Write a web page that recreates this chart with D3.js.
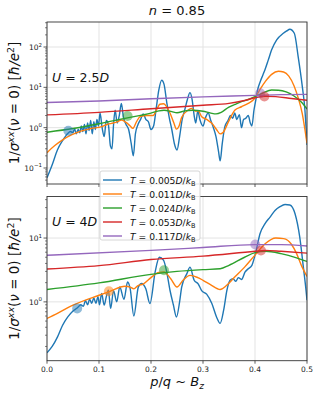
<!DOCTYPE html>
<html><head><meta charset="utf-8">
<script src="https://cdn.jsdelivr.net/npm/d3@7"></script>
<style>body{margin:0;background:#fff}svg{display:block;font-family:"DejaVu Sans",sans-serif}</style>
</head><body><svg id="c" width="319" height="394"></svg>
<script>
// ---------- data ----------
const seriesLabels = ["0.005","0.011","0.024","0.053","0.117"];
const colors = ["#1f77b4","#ff7f0e","#2ca02c","#d62728","#9467bd"];
const xTicks = [0,0.1,0.2,0.3,0.4,0.5];
const topDecades = [-1,0,1,2];
const botDecades = [0,1];

const topBlue = [[0,0.057],[0.01,0.12],[0.02,0.28],[0.03,0.48],[0.04,0.72],[0.045,0.8],[0.05,0.75],[0.053,0.95],[0.056,0.7],[0.06,0.9],[0.063,0.75],[0.066,1.1],[0.069,0.8],[0.072,1.2],[0.075,0.7],[0.078,1.3],[0.081,0.85],[0.084,1.5],[0.087,0.7],[0.09,1.4],[0.093,0.9],[0.096,1.6],[0.099,1.1],[0.102,2.3],[0.106,1.0],[0.11,0.6],[0.114,1.5],[0.118,1.2],[0.122,0.35],[0.125,0.3],[0.128,1.2],[0.131,2.7],[0.135,1.3],[0.139,2.0],[0.143,4.0],[0.147,1.8],[0.152,1.2],[0.157,0.9],[0.162,0.4],[0.166,0.2],[0.17,0.7],[0.175,1.2],[0.18,1.6],[0.185,2.2],[0.19,1.6],[0.195,1.4],[0.2,0.9],[0.205,1.1],[0.21,3.0],[0.215,8.5],[0.2205,15],[0.225,12],[0.23,4.5],[0.235,1.8],[0.24,0.9],[0.245,0.4],[0.25,0.28],[0.255,0.6],[0.26,1.6],[0.265,2.8],[0.27,5.0],[0.275,7.4],[0.279,5.0],[0.283,2.0],[0.286,1.3],[0.29,2.6],[0.294,1.6],[0.3,1.1],[0.305,1.8],[0.31,2.3],[0.315,1.5],[0.32,1.0],[0.325,0.6],[0.33,0.25],[0.333,0.15],[0.337,0.4],[0.342,1.06],[0.348,1.5],[0.353,2.0],[0.357,1.7],[0.361,2.3],[0.365,1.6],[0.37,2.1],[0.374,1.0],[0.378,1.6],[0.382,1.7],[0.387,2.0],[0.391,1.3],[0.394,1.1],[0.398,2.7],[0.401,4.4],[0.405,8.6],[0.41,13.8],[0.415,20],[0.419,27],[0.4256,48],[0.432,85],[0.4417,150],[0.4545,219],[0.461,250],[0.467,276],[0.4756,219],[0.483,58],[0.491,10.4],[0.496,2.75],[0.5,0.37]];
const topOrange = [[0,0.24],[0.015,0.36],[0.03,0.5],[0.047,0.66],[0.065,0.82],[0.085,0.95],[0.105,1.06],[0.115,1.2],[0.124,1.28],[0.132,1.35],[0.144,1.55],[0.152,1.35],[0.16,1.1],[0.165,0.96],[0.172,1.4],[0.179,1.87],[0.192,2.0],[0.204,2.0],[0.212,3.0],[0.217,3.8],[0.224,3.9],[0.2365,2.3],[0.244,1.3],[0.249,0.92],[0.254,1.1],[0.259,1.8],[0.272,2.75],[0.278,3.0],[0.285,2.6],[0.291,2.6],[0.297,1.9],[0.307,1.6],[0.317,1.28],[0.326,0.9],[0.333,0.7],[0.339,0.77],[0.349,1.41],[0.3615,2.75],[0.374,3.3],[0.387,4.0],[0.397,4.9],[0.4,5.5],[0.41,9.0],[0.42,14],[0.432,21],[0.445,25],[0.455,24],[0.465,19],[0.475,11],[0.483,5.5],[0.491,2.2],[0.496,0.9],[0.5,0.41]];
const topGreen = [[0,0.77],[0.05,0.95],[0.1,1.25],[0.15,1.7],[0.2,2.3],[0.215,2.6],[0.225,2.7],[0.24,2.5],[0.25,2.35],[0.265,2.6],[0.28,2.7],[0.3,2.55],[0.315,2.3],[0.325,2.2],[0.335,2.4],[0.349,3.2],[0.362,3.8],[0.374,4.4],[0.387,5.0],[0.4,5.9],[0.415,7.2],[0.432,8.6],[0.445,8.5],[0.46,7.7],[0.475,6.1],[0.49,4.2],[0.5,2.9]];
const topRed = [[0,2.07],[0.1,2.4],[0.2,2.95],[0.3,3.6],[0.35,4.0],[0.38,4.7],[0.4,5.5],[0.42,6.0],[0.44,5.9],[0.47,5.3],[0.5,4.8]];
const topPurple = [[0,4.2],[0.1,4.6],[0.2,5.2],[0.3,5.8],[0.4,6.3],[0.45,6.6],[0.5,6.7]];
const topMarkers = [[0,0.041,0.84],[2,0.155,1.95],[4,0.41,7.1],[3,0.418,5.9]];

const botBlue = [[0,0.16],[0.01,0.2],[0.02,0.28],[0.03,0.43],[0.04,0.58],[0.05,0.72],[0.058,0.8],[0.065,0.9],[0.07,0.85],[0.074,1.05],[0.078,0.9],[0.082,1.1],[0.086,0.95],[0.09,1.15],[0.094,0.95],[0.098,1.2],[0.101,0.9],[0.105,1.35],[0.11,0.89],[0.114,1.2],[0.118,1.52],[0.1224,0.79],[0.128,1.5],[0.134,1.0],[0.14,1.71],[0.148,1.1],[0.155,2.05],[0.16,1.6],[0.167,0.6],[0.1756,1.7],[0.182,1.94],[0.19,1.6],[0.198,0.94],[0.208,2.94],[0.216,5.0],[0.224,4.5],[0.23,3.0],[0.2365,1.52],[0.243,0.9],[0.249,0.58],[0.255,1.0],[0.259,1.7],[0.269,2.77],[0.275,3.5],[0.283,2.18],[0.291,1.9],[0.2974,1.5],[0.307,1.32],[0.317,0.94],[0.326,0.58],[0.333,0.46],[0.3397,0.74],[0.346,1.52],[0.352,2.18],[0.358,2.3],[0.363,2.1],[0.368,2.4],[0.374,2.24],[0.381,2.94],[0.387,3.3],[0.394,3.74],[0.399,5.0],[0.403,6.8],[0.4096,11.7],[0.419,16.7],[0.429,21.3],[0.4385,27],[0.448,31],[0.4577,33.6],[0.467,33],[0.477,24],[0.486,10.4],[0.493,3.5],[0.4975,1.7],[0.5,1.06]];
const botOrange = [[0,0.55],[0.02,0.66],[0.05,0.89],[0.1,1.27],[0.12,1.45],[0.15,1.76],[0.16,1.7],[0.167,1.6],[0.175,1.8],[0.185,1.9],[0.2,2.4],[0.215,2.9],[0.225,2.94],[0.238,2.3],[0.25,1.71],[0.262,2.2],[0.275,2.6],[0.29,2.4],[0.3,2.18],[0.315,1.85],[0.333,1.56],[0.345,1.8],[0.36,2.4],[0.38,3.5],[0.4,5.4],[0.42,8.2],[0.44,10],[0.455,9.8],[0.47,8.0],[0.48,5.7],[0.49,3.6],[0.5,2.5]];
const botGreen = [[0,1.56],[0.1,1.98],[0.2,2.7],[0.25,3.0],[0.3,3.2],[0.333,3.3],[0.35,3.74],[0.38,5.0],[0.4,5.9],[0.42,6.2],[0.45,5.7],[0.48,4.9],[0.5,4.3]];
const botRed = [[0,3.28],[0.1,3.7],[0.2,4.6],[0.3,5.2],[0.4,6.2],[0.42,6.4],[0.45,6.2],[0.5,5.8]];
const botPurple = [[0,5.37],[0.2,6.4],[0.3,7.1],[0.4,7.9],[0.45,7.9],[0.5,7.5]];
const botMarkers = [[0,0.058,0.79],[1,0.119,1.47],[2,0.225,3.13],[4,0.4006,7.9],[3,0.4115,6.4]];

// ---------- drawing ----------
const svg = d3.select("#c");
const X0=47, X1=307;
const x = d3.scaleLinear().domain([0,0.5]).range([X0,X1]);
const panels = [
  {id:"t", top:22, bot:184, y:d3.scaleLog().domain([Math.pow(10,-1.397),Math.pow(10,2.62)]).range([184,22]),
   series:[topBlue,topOrange,topGreen,topRed,topPurple], markers:topMarkers, decades:topDecades, label:"2.5", labelY:82, xlabels:false},
  {id:"b", top:196.5, bot:360.7, y:d3.scaleLog().domain([Math.pow(10,-0.922),Math.pow(10,1.651)]).range([360.7,196.5]),
   series:[botBlue,botOrange,botGreen,botRed,botPurple], markers:botMarkers, decades:botDecades, label:"4", labelY:226, xlabels:true}
];
const defs = svg.append("defs");
panels.forEach(p=>{
  defs.append("clipPath").attr("id","clip"+p.id).append("rect")
    .attr("x",X0).attr("y",p.top).attr("width",X1-X0).attr("height",p.bot-p.top);
  const g = svg.append("g");
  xTicks.forEach(t=>g.append("line").attr("x1",x(t)).attr("x2",x(t)).attr("y1",p.top).attr("y2",p.bot)
    .attr("stroke","#e3e3e3").attr("stroke-width",1));
  p.decades.forEach(d=>g.append("line").attr("x1",X0).attr("x2",X1).attr("y1",p.y(Math.pow(10,d))).attr("y2",p.y(Math.pow(10,d)))
    .attr("stroke","#e3e3e3").attr("stroke-width",1));
  const line = d3.line().x(d=>x(d[0])).y(d=>p.y(d[1])).curve(d3.curveMonotoneX);
  const lg = g.append("g").attr("clip-path","url(#clip"+p.id+")");
  p.series.forEach((s,i)=>lg.append("path").attr("d",line(s)).attr("fill","none")
    .attr("stroke",colors[i]).attr("stroke-width",1.4).attr("stroke-linejoin","round"));
  p.markers.forEach(m=>lg.append("circle").attr("cx",x(m[1])).attr("cy",p.y(m[2])).attr("r",5)
    .attr("fill",colors[m[0]]).attr("fill-opacity",0.5));
  g.append("rect").attr("x",X0).attr("y",p.top).attr("width",X1-X0).attr("height",p.bot-p.top)
    .attr("fill","none").attr("stroke","#333").attr("stroke-width",0.9);
  xTicks.forEach(t=>{
    g.append("line").attr("x1",x(t)).attr("x2",x(t)).attr("y1",p.bot).attr("y2",p.bot+3).attr("stroke","#333").attr("stroke-width",0.8);
    if(p.xlabels) g.append("text").attr("x",x(t)).attr("y",p.bot+11).attr("text-anchor","middle")
      .attr("font-size",7.5).attr("fill","#222").text(t.toFixed(1));
  });
  const [lo,hi] = p.y.domain();
  for(let d=Math.floor(Math.log10(lo)); d<=Math.ceil(Math.log10(hi)); d++){
    for(let k=1;k<10;k++){
      const v=k*Math.pow(10,d);
      if(v<lo||v>hi) continue;
      const yy=p.y(v);
      g.append("line").attr("x1",X0-(k===1?3.5:2)).attr("x2",X0).attr("y1",yy).attr("y2",yy)
        .attr("stroke","#333").attr("stroke-width",k===1?0.8:0.6);
    }
  }
  p.decades.forEach(d=>{
    const t=g.append("text").attr("x",X0-5).attr("y",p.y(Math.pow(10,d))+3).attr("text-anchor","end")
      .attr("font-size",7.5).attr("fill","#222");
    t.append("tspan").text("10");
    t.append("tspan").attr("dy",-3.5).attr("font-size",5.5).text(d<0?"\u2212"+(-d):d);
  });
  const lt=g.append("text").attr("x",52).attr("y",p.labelY).attr("font-size",12.5).attr("fill","#111");
  lt.append("tspan").attr("font-style","italic").text("U");
  lt.append("tspan").text(" = "+p.label);
  lt.append("tspan").attr("font-style","italic").text("D");
  const cy=(p.top+p.bot)/2;
  const yl=g.append("text").attr("transform",`translate(19,${cy}) rotate(-90)`).attr("text-anchor","middle")
    .attr("font-size",13.5).attr("fill","#111");
  yl.append("tspan").text("1/");
  yl.append("tspan").attr("font-style","italic").text("\u03c3");
  yl.append("tspan").attr("font-style","italic").attr("font-size",9.5).attr("dy",-5).text("xx");
  yl.append("tspan").attr("dy",5).text("(");
  yl.append("tspan").attr("font-style","italic").text("\u03bd");
  yl.append("tspan").text(" = 0)  [");
  yl.append("tspan").attr("font-style","italic").text("\u0127/e");
  yl.append("tspan").attr("font-size",9.5).attr("dy",-5).text("2");
  yl.append("tspan").attr("dy",5).text("]");
});
const tt=svg.append("text").attr("x",177).attr("y",15).attr("text-anchor","middle").attr("font-size",13).attr("fill","#111");
tt.append("tspan").attr("font-style","italic").text("n");
tt.append("tspan").text(" = 0.85");
const xl=svg.append("text").attr("x",177).attr("y",386).attr("text-anchor","middle").attr("font-size",13).attr("fill","#111");
xl.append("tspan").attr("font-style","italic").text("p");
xl.append("tspan").text("/");
xl.append("tspan").attr("font-style","italic").text("q");
xl.append("tspan").text(" ~ ");
xl.append("tspan").attr("font-style","italic").text("B");
xl.append("tspan").attr("font-style","italic").attr("font-size",9).attr("dy",3).text("z");
const leg=svg.append("g");
leg.append("rect").attr("x",100).attr("y",171).attr("width",100).attr("height",69).attr("rx",2)
  .attr("fill","#fff").attr("fill-opacity",0.85).attr("stroke","#cccccc").attr("stroke-width",0.8);
seriesLabels.forEach((s,i)=>{
  const yy=180+i*14;
  leg.append("line").attr("x1",103).attr("x2",122).attr("y1",yy).attr("y2",yy).attr("stroke",colors[i]).attr("stroke-width",1.4);
  const t=leg.append("text").attr("x",130).attr("y",yy+3.5).attr("font-size",9.2).attr("fill","#111");
  t.append("tspan").attr("font-style","italic").text("T");
  t.append("tspan").text(" = "+s);
  t.append("tspan").attr("font-style","italic").text("D");
  t.append("tspan").text("/");
  t.append("tspan").attr("font-style","italic").text("k");
  t.append("tspan").attr("font-size",6.5).attr("dy",2).text("B");
});
</script></body></html>
